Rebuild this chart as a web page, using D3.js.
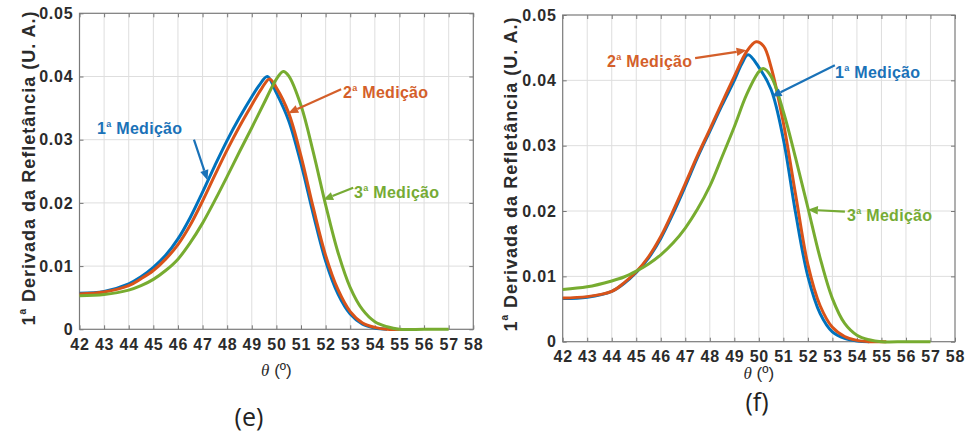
<!DOCTYPE html>
<html>
<head>
<meta charset="utf-8">
<script src="https://cdn.jsdelivr.net/npm/d3@7/dist/d3.min.js"></script>
<style>
  body { margin: 0; background: #fff; }
  svg { display: block; }
</style>
</head>
<body>
<svg id="chart" width="967" height="434"></svg>
<script>
// ---- axis ticks ----
const thetaTicks = [42, 43, 44, 45, 46, 47, 48, 49, 50, 51, 52, 53, 54, 55, 56, 57, 58];
const valueTicks = [0, 0.01, 0.02, 0.03, 0.04, 0.05];
const valueTickLabels = ["0", "0.01", "0.02", "0.03", "0.04", "0.05"];
const seriesNames = ["Medição", "Medição", "Medição"];
const seriesOrdinals = ["1", "2", "3"];

// ---- panel (e): first derivative of reflectance vs angle ----
const e1Theta = [42, 43, 44, 44.5, 45, 45.5, 46, 46.5, 47, 47.5, 48, 48.5, 49, 49.3, 49.63, 50, 50.5, 51, 51.5, 52, 52.5, 53, 53.5, 54, 54.5];
const e1Value = [0.0057, 0.0060, 0.0072, 0.0083, 0.0098, 0.0117, 0.0143, 0.0177, 0.0217, 0.0259, 0.0299, 0.0335, 0.0368, 0.0386, 0.0400, 0.0374, 0.0330, 0.0262, 0.0182, 0.0108, 0.0056, 0.0024, 0.0008, 0.0002, 0.0];
const e2Theta = [42, 43, 44, 44.5, 45, 45.5, 46, 46.5, 47, 47.5, 48, 48.5, 49, 49.4, 49.72, 50, 50.5, 51, 51.5, 52, 52.5, 53, 53.5, 54, 54.5, 55.2];
const e2Value = [0.0056, 0.0059, 0.0069, 0.0080, 0.0093, 0.0111, 0.0134, 0.0165, 0.0203, 0.0244, 0.0284, 0.0321, 0.0355, 0.0381, 0.0396, 0.0382, 0.0342, 0.0274, 0.0192, 0.0117, 0.0063, 0.0028, 0.0010, 0.0003, 0.0, 0.0];
const e3Theta = [42, 43, 44, 44.5, 45, 45.5, 46, 46.5, 47, 47.5, 48, 48.5, 49, 49.5, 50, 50.28, 50.5, 51, 51.5, 52, 52.5, 53, 53.5, 54, 54.5, 55, 56, 57];
const e3Value = [0.0053, 0.0055, 0.0062, 0.0069, 0.0079, 0.0093, 0.0111, 0.0137, 0.0168, 0.0204, 0.0242, 0.0281, 0.0319, 0.0358, 0.0396, 0.0408, 0.0401, 0.0354, 0.0280, 0.0197, 0.0122, 0.0066, 0.0031, 0.0012, 0.0004, 0.0, 0.0, 0.0];

// ---- panel (f) ----
const f1Theta = [42, 43, 44, 44.5, 45, 45.5, 46, 46.5, 47, 47.5, 48, 48.5, 49, 49.3, 49.56, 50, 50.5, 51, 51.5, 52, 52.5, 53, 53.5, 54, 54.5];
const f1Value = [0.0066, 0.0068, 0.0077, 0.0089, 0.0106, 0.0128, 0.0158, 0.0196, 0.0238, 0.0282, 0.0322, 0.0362, 0.0400, 0.0425, 0.0439, 0.0420, 0.0386, 0.0310, 0.0197, 0.0100, 0.0043, 0.0015, 0.0005, 0.0001, 0.0];
const f2Theta = [42, 43, 44, 44.5, 45, 45.5, 46, 46.5, 47, 47.5, 48, 48.5, 49, 49.5, 49.89, 50.2, 50.5, 51, 51.5, 52, 52.5, 53, 53.5, 54, 54.5, 55.2];
const f2Value = [0.0067, 0.0069, 0.0077, 0.0090, 0.0107, 0.0130, 0.0161, 0.0200, 0.0242, 0.0285, 0.0325, 0.0366, 0.0406, 0.0444, 0.0459, 0.0452, 0.0420, 0.0335, 0.0225, 0.0118, 0.0055, 0.0022, 0.0008, 0.0002, 0.0, 0.0];
const f3Theta = [42, 43, 44, 44.5, 45, 45.5, 46, 46.5, 47, 47.5, 48, 48.5, 49, 49.5, 50, 50.18, 50.5, 51, 51.5, 52, 52.5, 53, 53.5, 54, 54.5, 55, 56, 57];
const f3Value = [0.0080, 0.0084, 0.0093, 0.0099, 0.0108, 0.0119, 0.0133, 0.0151, 0.0174, 0.0203, 0.0238, 0.0283, 0.0329, 0.0378, 0.0413, 0.0418, 0.0406, 0.0352, 0.0281, 0.0205, 0.0128, 0.0066, 0.0028, 0.0010, 0.0003, 0.0, 0.0, 0.0];

// annotation arrows: [tail theta, tail value, tip theta, tip value]
const eArrows = [
  [46.65, 0.0300, 47.20, 0.0236],
  [52.63, 0.0380, 50.48, 0.0342],
  [53.12, 0.0224, 51.90, 0.0205]
];
const fArrows = [
  [53.10, 0.0423, 50.52, 0.0375],
  [47.40, 0.0434, 49.50, 0.0446],
  [53.51, 0.0199, 52.00, 0.0202]
];

const lineColors = ["#0072BD", "#D95319", "#77AC30"];
const textColors = ["#1a72b8", "#d45f2a", "#76ab35"];
const FONT = "'Liberation Sans', Arial, sans-serif";

const panels = [
  {
    tag: "(e)",
    box: { l: 79.5, t: 13.3, r: 473.3, b: 329.3 },
    series: [[e1Theta, e1Value], [e2Theta, e2Value], [e3Theta, e3Value]],
    arrows: eArrows,
    labelPos: [[97, 134], [343, 98], [354, 198]],
    yTitle: [35, 168], xTitleY: 376, tagPos: [249, 426]
  },
  {
    tag: "(f)",
    box: { l: 562.7, t: 15, r: 955, b: 341.7 },
    series: [[f1Theta, f1Value], [f2Theta, f2Value], [f3Theta, f3Value]],
    arrows: fArrows,
    labelPos: [[835, 78], [607, 67], [847, 221]],
    yTitle: [517, 174], xTitleY: 379, tagPos: [757, 411]
  }
];

const svg = d3.select("#chart");

function ordinalText(sel, ord, name, supSize, rise) {
  sel.append("tspan").text(ord);
  sel.append("tspan").attr("font-size", supSize).attr("dy", -rise).text("a");
  sel.append("tspan").attr("dy", rise).text(" " + name);
}

panels.forEach(p => {
  const x = d3.scaleLinear().domain([42, 58]).range([p.box.l, p.box.r]);
  const y = d3.scaleLinear().domain([0, 0.05]).range([p.box.b, p.box.t]);
  const g = svg.append("g");

  // grid
  g.append("g").selectAll("line").data(thetaTicks.slice(1, -1)).join("line")
    .attr("x1", d => x(d)).attr("x2", d => x(d))
    .attr("y1", p.box.t).attr("y2", p.box.b)
    .attr("stroke", "#dedede").attr("stroke-width", 1);
  g.append("g").selectAll("line").data(valueTicks.slice(1, -1)).join("line")
    .attr("y1", d => y(d)).attr("y2", d => y(d))
    .attr("x1", p.box.l).attr("x2", p.box.r)
    .attr("stroke", "#dedede").attr("stroke-width", 1);

  // axes with inward ticks on all four sides
  const axStyle = a => {
    a.select(".domain").remove();
    a.selectAll(".tick line").attr("stroke", "#777");
  };
  const tickText = s => s.attr("font-family", FONT).attr("font-weight", "bold")
    .attr("font-size", 16).attr("letter-spacing", 0.8).attr("fill", "#2b2b2b");
  g.append("g").attr("transform", `translate(0,${p.box.b})`)
    .call(d3.axisBottom(x).tickValues(thetaTicks).tickSize(-4).tickPadding(9).tickFormat(d3.format("d")))
    .call(axStyle)
    .selectAll("text").call(tickText);
  g.append("g").attr("transform", `translate(0,${p.box.t})`)
    .call(d3.axisTop(x).tickValues(thetaTicks).tickSize(-4).tickFormat(""))
    .call(axStyle);
  g.append("g").attr("transform", `translate(${p.box.l},0)`)
    .call(d3.axisLeft(y).tickValues(valueTicks).tickSize(-4).tickPadding(6).tickFormat((d, i) => valueTickLabels[i]))
    .call(axStyle)
    .selectAll("text").call(tickText);
  g.append("g").attr("transform", `translate(${p.box.r},0)`)
    .call(d3.axisRight(y).tickValues(valueTicks).tickSize(-4).tickFormat(""))
    .call(axStyle);

  // frame
  g.append("rect")
    .attr("x", p.box.l).attr("y", p.box.t)
    .attr("width", p.box.r - p.box.l).attr("height", p.box.b - p.box.t)
    .attr("fill", "none").attr("stroke", "#7a7a7a").attr("stroke-width", 1.2);

  // curves
  const line = d3.line().x(d => x(d[0])).y(d => y(Math.max(0, d[1])))
    .curve(d3.curveCatmullRom.alpha(0.5));
  p.series.forEach((s, i) => {
    const pts = s[0].map((t, k) => [t, s[1][k]]);
    g.append("path").datum(pts)
      .attr("d", line)
      .attr("fill", "none")
      .attr("stroke", lineColors[i])
      .attr("stroke-width", 3)
      .attr("stroke-linejoin", "round");
  });

  // annotations
  p.arrows.forEach((a, i) => {
    const x0 = x(a[0]), y0 = y(a[1]), x1 = x(a[2]), y1 = y(a[3]);
    const ang = Math.atan2(y1 - y0, x1 - x0);
    const L = 10, W = 4.2;
    const bx = x1 - L * Math.cos(ang), by = y1 - L * Math.sin(ang);
    g.append("line")
      .attr("x1", x0).attr("y1", y0).attr("x2", bx).attr("y2", by)
      .attr("stroke", textColors[i]).attr("stroke-width", 2.2);
    const px = -Math.sin(ang) * W, py = Math.cos(ang) * W;
    g.append("path")
      .attr("d", `M${x1},${y1}L${bx + px},${by + py}L${bx - px},${by - py}Z`)
      .attr("fill", textColors[i]);
    const t = g.append("text")
      .attr("x", p.labelPos[i][0]).attr("y", p.labelPos[i][1])
      .attr("font-family", FONT).attr("font-weight", "bold").attr("font-size", 16)
      .attr("letter-spacing", 0.3)
      .attr("fill", textColors[i]);
    ordinalText(t, seriesOrdinals[i], seriesNames[i], 9, 7);
  });

  // axis titles
  const yt = g.append("text")
    .attr("transform", `translate(${p.yTitle[0]},${p.yTitle[1]}) rotate(-90)`)
    .attr("text-anchor", "middle")
    .attr("font-family", FONT).attr("font-weight", "bold").attr("font-size", 18)
    .attr("letter-spacing", 1)
    .attr("fill", "#2b2b2b");
  ordinalText(yt, "1", "Derivada da Refletância (U. A.)", 10, 9);

  const xt = g.append("text")
    .attr("x", (p.box.l + p.box.r) / 2).attr("y", p.xTitleY)
    .attr("text-anchor", "middle")
    .attr("font-size", 17).attr("fill", "#2b2b2b");
  xt.append("tspan").attr("font-family", "'Liberation Serif', 'DejaVu Serif', serif").attr("font-style", "italic").text("θ");
  xt.append("tspan").attr("font-family", FONT).text(" (º)");

  g.append("text")
    .attr("x", p.tagPos[0]).attr("y", p.tagPos[1])
    .attr("text-anchor", "middle")
    .attr("font-family", "'Open Sans', 'Noto Sans', sans-serif")
    .attr("font-size", 25).attr("fill", "#222")
    .text(p.tag);
});
</script>
</body>
</html>
